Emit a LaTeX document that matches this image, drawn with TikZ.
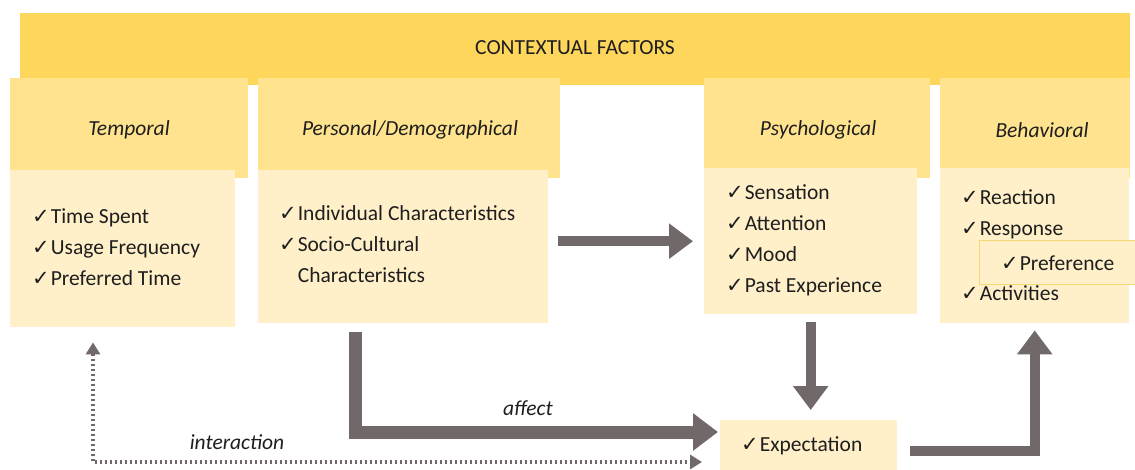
\documentclass[tikz,border=0pt]{standalone}
\usepackage{fontspec}
\setmainfont{Carlito}
\newfontfamily\symfont{DejaVu Sans}
\usetikzlibrary{arrows.meta,calc}
\definecolor{bandc}{HTML}{FFD65C}
\definecolor{hdrc}{HTML}{FFE38E}
\definecolor{bodyc}{HTML}{FFF0C9}
\definecolor{prefb}{HTML}{F7D676}
\definecolor{arrc}{HTML}{716969}
\definecolor{txtc}{HTML}{1E1E1E}
\newcommand\chk{{\symfont\fontsize{21}{21}\selectfont ✓}\hspace{1pt}}
\newcommand\nochk{\phantom{\chk}}
\tikzset{
  boxbase/.style={draw=none, inner sep=0pt, anchor=north west},
  bandbox/.style={boxbase, fill=bandc},
  hdrbox/.style={boxbase, fill=hdrc},
  bodybox/.style={boxbase, fill=bodyc},
  hdrtext/.style={font=\fontsize{21.5}{24}\selectfont\itshape, text=txtc, inner sep=0pt},
  listtext/.style={font=\fontsize{21.5}{31}\selectfont, text=txtc, align=left, inner sep=0pt, anchor=west},
  bigarrow/.style={draw=arrc, line width=10pt, -{Triangle[width=34pt, length=24pt]}},
  fatarrow/.style={draw=arrc, line width=13pt, -{Triangle[width=36pt, length=25pt]}},
  dotarrow/.style={draw=arrc, line width=3.5pt, dash pattern=on 2.5pt off 2.5pt, {Triangle[width=14pt, length=12pt]}-{Triangle[width=14pt, length=12pt]}},
  lbl/.style={font=\fontsize{21.5}{24}\selectfont\itshape, text=txtc, inner sep=0pt}
}
\begin{document}
\begin{tikzpicture}[x=1pt, y=-1pt]
\useasboundingbox (0,0) rectangle (1135,470);
% top band
\node[bandbox, minimum width=1110pt, minimum height=72pt] (band) at (20,13) {};
\node[font=\fontsize{21.5}{24}\selectfont, text=txtc, inner sep=0pt] (bandtxt) at (575,48) {CONTEXTUAL FACTORS};
% headers
\node[hdrbox, minimum width=238pt, minimum height=100pt] (temphdr) at (10,78) {};
\node[hdrbox, minimum width=302pt, minimum height=100pt] (pershdr) at (258,78) {};
\node[hdrbox, minimum width=226pt, minimum height=100pt] (psyhdr) at (704,78) {};
\node[hdrbox, minimum width=190pt, minimum height=100pt] (behhdr) at (940,78) {};
\node[hdrtext] (temptitle) at (129,130) {Temporal};
\node[hdrtext] (perstitle) at (410,130) {Personal/Demographical};
\node[hdrtext] (psytitle) at (818,130) {Psychological};
\node[hdrtext] (behtitle) at (1042,130) {Behavioral};
% bodies
\node[bodybox, minimum width=225pt, minimum height=157pt] (tempbody) at (10,170) {};
\node[bodybox, minimum width=290pt, minimum height=153pt] (persbody) at (258,170) {};
\node[bodybox, minimum width=213pt, minimum height=146pt] (psybody) at (704,168) {};
\node[bodybox, minimum width=189pt, minimum height=155pt] (behbody) at (940,168) {};
% lists
\node[listtext] (templist) at (32,247) {\chk Time Spent\\\chk Usage Frequency\\\chk Preferred Time};
\node[listtext] (perslist) at (279,244) {\chk Individual Characteristics\\\chk Socio-Cultural\\\nochk Characteristics};
\node[listtext] (psylist) at (726,240) {\chk Sensation\\\chk Attention\\\chk Mood\\\chk Past Experience};
\node[listtext] (behlist) at (961,214) {\chk Reaction\\\chk Response};
\node[listtext] (behact) at (961,293) {\chk Activities};
% preference
\node[boxbase, fill=bodyc, draw=prefb, line width=1pt, minimum width=160pt, minimum height=44pt] (prefbox) at (979,240) {};
\node[listtext] (preftxt) at (1001,263) {\chk Preference};
% expectation
\node[bodybox, minimum width=177pt, minimum height=51pt] (expect) at (720,420) {};
\node[listtext] (exptxt) at (741,446) {\chk Expectation};
% connectors
\coordinate (affbend) at (355,432);
\coordinate (dotc) at (93,462);
\draw[bigarrow, shorten <=10pt, shorten >=11pt] (persbody.east |- psybody.west) -- (psybody.west);
\draw[bigarrow, shorten <=8pt, shorten >=10pt] (psybody.south) -- (psybody.south |- expect.north);
\draw[fatarrow, shorten <=9pt, shorten >=2pt] (persbody.south -| affbend) |- (expect.west |- affbend);
\draw[bigarrow, shorten <=13pt, shorten >=7pt] ([yshift=-5pt]expect.east) -| (behbody.south);
\draw[dotarrow, shorten <=15pt, shorten >=18pt] (tempbody.south -| dotc) |- (expect.west |- dotc);
\node[lbl] (afflbl) at (528,408) {affect};
\node[lbl] (intlbl) at (237,442) {interaction};
\end{tikzpicture}
\end{document}
